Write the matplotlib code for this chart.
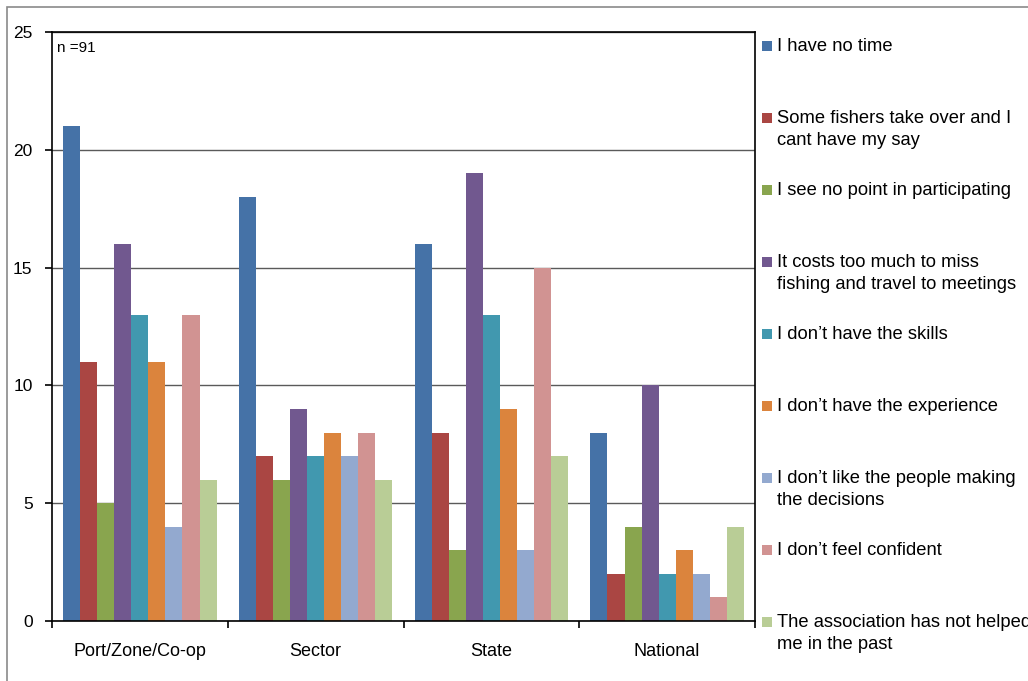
import numpy as np
import matplotlib.pyplot as plt
from matplotlib.patches import Rectangle

plt.rcParams['font.family'] = ['Liberation Sans', 'DejaVu Sans']

# Ölçek birimleri ve seriler
groups = ['Port/Zone/Co-op', 'Sector', 'State', 'National']
reasons = [
    'I have no time',
    'Some fishers take over and I\ncant have my say',
    'I see no point in participating',
    'It costs too much to miss\nfishing and travel to meetings',
    'I don\u2019t have the skills',
    'I don\u2019t have the experience',
    'I don\u2019t like the people making\nthe decisions',
    'I don\u2019t feel confident',
    'The association has not helped\nme in the past',
]
counts = [
    [21, 18, 16, 8],
    [11, 7, 8, 2],
    [5, 6, 3, 4],
    [16, 9, 19, 10],
    [13, 7, 13, 2],
    [11, 8, 9, 3],
    [4, 7, 3, 2],
    [13, 8, 15, 1],
    [6, 6, 7, 4],
]
colors = ['#4572A7', '#AA4643', '#89A54E', '#71588F', '#4198AF',
          '#DB843D', '#93A9CF', '#D19392', '#B9CD96']

W, H = 1028, 681
fig = plt.figure(figsize=(W / 100, H / 100), dpi=100)

# dış çerçeve
fig.patches.append(Rectangle((7 / W, -0.1), 1.2, (H - 7) / H + 0.1,
                             transform=fig.transFigure, fill=False,
                             edgecolor='#8a8a8a', linewidth=1.2))

ax = fig.add_axes([52 / W, (H - 621) / H, (755 - 52) / W, (621 - 32) / H])

n = len(reasons)
bw = 0.097
x = np.arange(len(groups))
for i in range(n):
    offs = (i - (n - 1) / 2) * bw
    ax.bar(x + offs, counts[i], width=bw, color=colors[i], linewidth=0)

ax.set_xlim(-0.5, len(groups) - 0.5)
ax.set_ylim(0, 25)
ax.set_yticks([0, 5, 10, 15, 20, 25])
ax.yaxis.grid(True, color='#5a5a5a', linewidth=1.0)
ax.set_axisbelow(True)
for s in ax.spines.values():
    s.set_color('black')
    s.set_linewidth(1.2)

ax.set_xticks(np.arange(len(groups) + 1) - 0.5)
ax.set_xticklabels([])
ax.set_xticks(x, minor=True)
ax.set_xticklabels(groups, minor=True, fontsize=13)
ax.tick_params(axis='x', which='major', length=5, width=1.2, direction='out')
ax.tick_params(axis='x', which='minor', length=0, pad=16)
ax.tick_params(axis='y', length=5, width=1.2, direction='out', pad=9,
               labelsize=12.5)

ax.text(0.007, 0.985, 'n =91', transform=ax.transAxes, fontsize=11,
        ha='left', va='top')

# açıklama kutusu (sağ taraf)
for i, label in enumerate(reasons):
    yc = 46 + 72 * i
    fig.patches.append(Rectangle((762 / W, (H - yc - 5) / H), 10 / W, 10 / H,
                                 transform=fig.transFigure,
                                 facecolor=colors[i], edgecolor='none'))
    fig.text(777 / W, (H - yc + 8) / H, label, fontsize=13.2, ha='left',
             va='top', linespacing=1.4)

plt.savefig('out.png', dpi=100)
